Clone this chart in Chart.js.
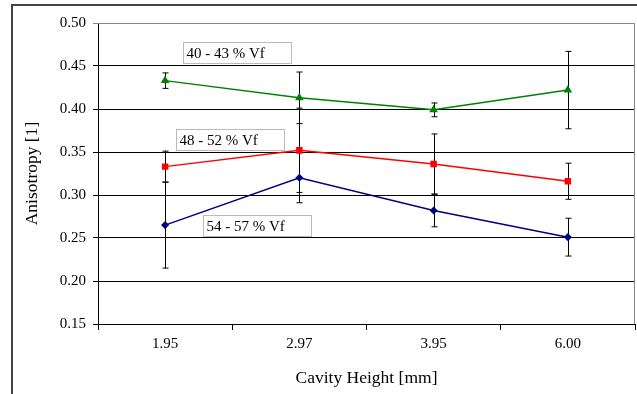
<!DOCTYPE html>
<html>
<head>
<meta charset="utf-8">
<script src="https://cdn.jsdelivr.net/npm/chart.js@4/dist/chart.umd.min.js"></script>
<style>
  html, body { margin: 0; padding: 0; background: #fff; }
  #wrap { width: 637px; height: 394px; }
</style>
</head>
<body>
<div id="wrap"><canvas id="myLineChart" width="637" height="394"></canvas></div>
<script>
// chart data
const categories = ['1.95', '2.97', '3.95', '6.00'];
const vf40 = [0.433, 0.413, 0.399, 0.422];
const err40 = [0.009, 0.030, 0.008, 0.045];
const vf48 = [0.333, 0.352, 0.336, 0.316];
const err48 = [0.018, 0.049, 0.035, 0.021];
const vf54 = [0.265, 0.320, 0.282, 0.251];
const err54 = [0.050, 0.029, 0.019, 0.022];
const seriesLabels = ['40 - 43 % Vf', '48 - 52 % Vf', '54 - 57 % Vf'];
const yTicks = [0.15, 0.20, 0.25, 0.30, 0.35, 0.40, 0.45, 0.50];

const serif = "'Liberation Serif', 'Times New Roman', serif";

// error bars, drawn through the scales
const errorBars = {
    id: 'errorBars',
    beforeDatasetsDraw(chart) {
        const ctx = chart.ctx;
        const x = chart.scales.x, y = chart.scales.y;
        ctx.save();
        ctx.strokeStyle = '#000';
        ctx.lineWidth = 1;
        chart.data.datasets.forEach(ds => {
            ds.data.forEach((v, i) => {
                const px = Math.round(x.getPixelForValue(i)) + 0.5;
                const top = y.getPixelForValue(v + ds.errors[i]);
                const bot = y.getPixelForValue(v - ds.errors[i]);
                ctx.beginPath();
                ctx.moveTo(px, top); ctx.lineTo(px, bot);
                ctx.moveTo(px - 3, top); ctx.lineTo(px + 3, top);
                ctx.moveTo(px - 3, bot); ctx.lineTo(px + 3, bot);
                ctx.stroke();
            });
        });
        ctx.restore();
    }
};

// frame round the plot and round the whole figure
const frames = {
    id: 'frames',
    beforeDraw(chart) {
        const ctx = chart.ctx;
        ctx.save();
        ctx.strokeStyle = '#444';
        ctx.lineWidth = 2;
        ctx.beginPath();
        ctx.moveTo(12, 394); ctx.lineTo(12, 5); ctx.lineTo(637, 5);
        ctx.stroke();
        ctx.restore();
    },
    afterDraw(chart) {
        const a = chart.chartArea, ctx = chart.ctx;
        ctx.save();
        ctx.strokeStyle = '#888';
        ctx.lineWidth = 1;
        ctx.beginPath();
        ctx.moveTo(Math.round(a.left), Math.round(a.top) + 0.5);
        ctx.lineTo(Math.round(a.right) - 0.5, Math.round(a.top) + 0.5);
        ctx.lineTo(Math.round(a.right) - 0.5, Math.round(a.bottom));
        ctx.stroke();
        ctx.restore();
    }
};

// label boxes next to the curves (category index, y value)
const boxSpots = [[0.536, 0.466], [0.48, 0.365], [0.687, 0.264]];
const seriesBoxes = {
    id: 'seriesBoxes',
    afterDatasetsDraw(chart) {
        const ctx = chart.ctx;
        const x = chart.scales.x, y = chart.scales.y;
        ctx.save();
        ctx.font = '15px ' + serif;
        ctx.textBaseline = 'middle';
        seriesLabels.forEach((txt, k) => {
            const cx = x.getPixelForValue(boxSpots[k][0]);
            const cy = y.getPixelForValue(boxSpots[k][1]);
            const w = 108, h = 21;
            const bx = Math.round(cx - w / 2) + 0.5, by = Math.round(cy - h / 2) + 0.5;
            ctx.fillStyle = '#fff';
            ctx.fillRect(bx, by, w, h);
            ctx.strokeStyle = '#bbb';
            ctx.lineWidth = 1;
            ctx.strokeRect(bx, by, w, h);
            ctx.fillStyle = '#000';
            ctx.fillText(txt, bx + 3, by + h / 2 + 1);
        });
        ctx.restore();
    }
};

var ctx = document.getElementById('myLineChart').getContext('2d');

var myLineChart = new Chart(ctx, {
    type: 'line',
    data: {
        labels: categories,
        datasets: [{
            label: seriesLabels[0],
            data: vf40,
            errors: err40,
            borderColor: '#008000',
            backgroundColor: '#008000',
            pointStyle: 'triangle',
            pointRadius: 3.5,
            borderWidth: 1.5
        }, {
            label: seriesLabels[1],
            data: vf48,
            errors: err48,
            borderColor: '#ff0000',
            backgroundColor: '#ff0000',
            pointStyle: 'rect',
            pointRadius: 3.5,
            borderWidth: 1.5
        }, {
            label: seriesLabels[2],
            data: vf54,
            errors: err54,
            borderColor: '#000080',
            backgroundColor: '#000080',
            pointStyle: 'rectRot',
            pointRadius: 3,
            borderWidth: 1.5
        }]
    },
    options: {
        responsive: false,
        animation: false,
        layout: { autoPadding: false, padding: { top: 23, right: 2, left: 0, bottom: 0 } },
        plugins: {
            legend: { display: false },
            tooltip: { enabled: false }
        },
        scales: {
            x: {
                offset: true,
                grid: { offset: true, drawOnChartArea: false, tickLength: 6, color: '#000' },
                border: { color: '#000', width: 1 },
                ticks: { color: '#000', padding: 5, font: { family: serif, size: 15 } },
                title: {
                    display: true,
                    text: 'Cavity Height [mm]',
                    color: '#000',
                    font: { family: serif, size: 17.5 },
                    padding: { top: 0, bottom: 5.5 }
                },
                afterFit: s => { s.height = 70; s.paddingLeft = 0; s.paddingRight = 0; }
            },
            y: {
                min: 0.15,
                max: 0.50,
                afterBuildTicks: s => { s.ticks = yTicks.map(v => ({ value: v })); },
                grid: {
                    tickLength: 5,
                    color: c => (c.tick && c.tick.value === 0.5) ? '#888' : '#000'
                },
                border: { color: '#000', width: 1 },
                ticks: {
                    color: '#000',
                    padding: 7,
                    font: { family: serif, size: 15 },
                    callback: v => v.toFixed(2)
                },
                title: {
                    display: true,
                    text: 'Anisotropy [1]',
                    color: '#000',
                    font: { family: serif, size: 17.5 },
                    padding: { top: 22, bottom: 0 }
                },
                afterFit: s => { s.width = 98; s.paddingTop = 0; s.paddingBottom = 0; }
            }
        }
    },
    plugins: [frames, errorBars, seriesBoxes]
});
</script>
</body>
</html>
